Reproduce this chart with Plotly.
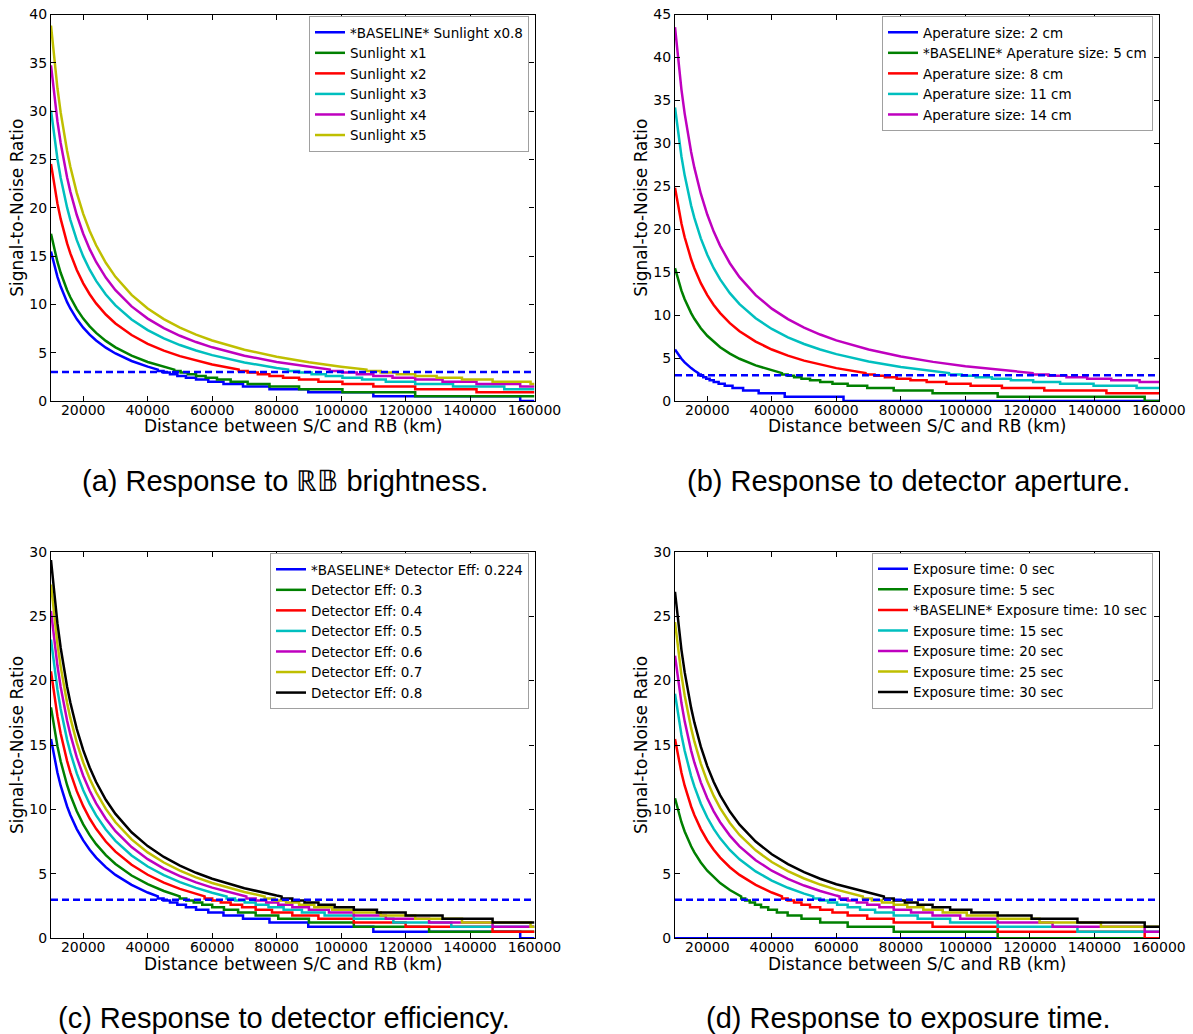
import plotly.graph_objects as go

W, H = 1193, 1034
X_MIN, X_MAX = 10000, 160000
THRESHOLD = 3

# distances (km) at which the smooth part of each curve was read
GRID = [10000, 11000, 12000, 13000, 14000, 15000, 16000, 18000, 20000, 22000,
        24000, 27000, 30000, 35000, 40000, 45000, 50000, 55000, 60000, 70000,
        80000, 90000, 100000, 110000, 120000]
# SNR step levels seen in the stair-like tails (index = step number)
LEVELS = [0.0, 0.5, 0.894, 1.225, 1.512, 1.768, 2.0, 2.214, 2.412, 2.598,
          2.774, 2.94, 3.098, 3.25]
XTICKS = [20000, 40000, 60000, 80000, 100000, 120000, 140000, 160000]

# ---- baseline curve (shared by all four panels) ----
BASE_HEAD = [15.461, 14.037, 12.850, 11.843, 10.979, 10.229, 9.572, 8.474, 7.592,
             6.868, 6.262, 5.518, 4.918, 4.142, 3.553]
BASE_STEPS = [43146, 44907, 46904, 49193, 51854, 55000, 58797, 63509, 69570,
              77782, 89815, 110000, 155563]

# ---- (a) sunlight ----
A2_HEAD = [17.307, 15.717, 14.391, 13.268, 12.304, 11.468, 10.735, 9.511, 8.529,
           7.723, 7.048, 6.221, 5.555, 4.692, 4.040, 3.527]
A2_STEPS = [48238, 50208, 52440, 55000, 57975, 61492, 65737, 71005, 77782, 86963,
            100416, 122984]
A3_HEAD = [24.536, 22.294, 20.425, 18.842, 17.484, 16.307, 15.276, 13.556, 12.178,
           11.049, 10.105, 8.950, 8.022, 6.824, 5.919, 5.211, 4.640, 4.170, 3.777]
A3_STEPS = [68219, 71005, 74162, 77782, 81989, 86963, 92967, 100416, 110000,
            122984, 142009]
A4_HEAD = [30.075, 27.332, 25.045, 23.108, 21.448, 20.009, 18.749, 16.647, 14.964,
           13.585, 12.434, 11.025, 9.895, 8.438, 7.340, 6.481, 5.790, 5.222, 4.746,
           3.992, 3.421]
A4_STEPS = [83551, 86963, 90829, 95263, 100416, 106508, 113860, 122984, 134722,
            150624]
A5_HEAD = [34.742, 31.575, 28.936, 26.702, 24.786, 23.126, 21.672, 19.248, 17.307,
           15.717, 14.391, 12.769, 11.468, 9.791, 8.529, 7.543, 6.751, 6.100, 5.555,
           4.692, 4.040, 3.527]
A5_STEPS = [96476, 100416, 104881, 110000, 115950, 122984, 131475, 142009, 155563]
A6_HEAD = [38.852, 35.313, 32.363, 29.866, 27.725, 25.870, 24.245, 21.537, 19.369,
           17.593, 16.113, 14.301, 12.850, 10.979, 9.572, 8.474, 7.592, 6.868, 6.262,
           5.304, 4.579, 4.011, 3.553]
A6_STEPS = [107864, 112268, 117260, 122984, 129636, 137500, 146994, 158771]

# ---- (b) aperture ----
B1_HEAD = [5.995, 5.409, 4.918, 4.501, 4.142, 3.828, 3.553]
B1_STEPS = [17258, 17963, 18762, 19677, 20742, 22000, 23519, 25403, 27828, 31113,
            35926, 44000, 62225]
B3_HEAD = [24.830, 22.561, 20.670, 19.068, 17.695, 16.504, 15.460, 13.720, 12.326,
           11.183, 10.229, 9.060, 8.121, 6.909, 5.995, 5.278, 4.701, 4.226, 3.828]
B3_STEPS = [69032, 71851, 75046, 78709, 82966, 88000, 94074, 101612, 111311,
            124449, 143701]
B4_HEAD = [34.181, 31.065, 28.468, 26.269, 24.385, 22.751, 21.320, 18.935, 17.025,
           15.461, 14.156, 12.559, 11.279, 9.629, 8.386, 7.415, 6.636, 5.995, 5.458,
           4.608, 3.965, 3.461]
B4_STEPS = [94921, 98797, 103190, 108227, 114081, 121002, 129356, 139720, 153056]
B5_HEAD = [43.524, 39.561, 36.257, 33.461, 31.065, 28.987, 27.169, 24.137, 21.710,
           19.724, 18.067, 16.041, 14.417, 12.326, 10.754, 9.528, 8.544, 7.737, 7.061,
           5.995, 5.189, 4.556, 4.047, 3.628, 3.276]
B5_STEPS = [120808, 125741, 131332, 137743, 145193, 154002]

# ---- (c) detector efficiency ----
C2_HEAD = [17.920, 16.275, 14.903, 13.741, 12.744, 11.879, 11.121, 9.855, 8.839,
           8.006, 7.309, 6.454, 5.765, 4.875, 4.201, 3.671]
C2_STEPS = [49931, 51970, 54280, 56930, 60009, 63650, 68044, 73496, 80511, 90014,
            103939, 127299]
C3_HEAD = [20.715, 18.818, 17.237, 15.897, 14.748, 13.751, 12.878, 11.420, 10.252,
           9.294, 8.493, 7.511, 6.722, 5.701, 4.930, 4.325, 3.837, 3.435]
C3_STEPS = [57653, 60007, 62675, 65734, 69290, 73493, 78567, 84863, 92962, 103935,
            120014, 146986]
C4_HEAD = [23.178, 21.059, 19.292, 17.795, 16.512, 15.399, 14.424, 12.798, 11.494,
           10.425, 9.533, 8.439, 7.561, 6.426, 5.568, 4.897, 4.356, 3.910, 3.537]
C4_STEPS = [64462, 67094, 70078, 73498, 77474, 82174, 87847, 94886, 103942, 116211,
            134189]
C5_HEAD = [25.401, 23.081, 21.146, 19.508, 18.104, 16.885, 15.819, 14.039, 12.614,
           11.445, 10.469, 9.275, 8.315, 7.076, 6.141, 5.410, 4.821, 4.336, 3.929,
           3.284]
C5_STEPS = [70613, 73496, 76764, 80511, 84866, 90014, 96229, 103939, 113860,
            127299, 146992]
C6_HEAD = [27.447, 24.941, 22.852, 21.084, 19.568, 18.253, 17.102, 15.181, 13.643,
           12.382, 11.330, 10.042, 9.007, 7.673, 6.667, 5.880, 5.246, 4.725, 4.288,
           3.594]
C6_STEPS = [76274, 79388, 82918, 86966, 91670, 97231, 103944, 112272, 122988,
            137505, 158776]
C7_HEAD = [29.348, 26.670, 24.438, 22.549, 20.928, 19.523, 18.293, 16.242, 14.599,
           13.252, 12.129, 10.753, 9.650, 8.227, 7.154, 6.315, 5.640, 5.085, 4.620,
           3.883, 3.324]
C7_STEPS = [81538, 84868, 88641, 92968, 97997, 103941, 111118, 120021, 131476,
            146995]

# ---- (d) exposure time ----
D0_X = [10000, 160000]
D0_Y = [0.0, 0.0]
D1_HEAD = [10.866, 9.853, 9.007, 8.290, 7.673, 7.137, 6.667, 5.880, 5.246, 4.725,
           4.288, 3.750, 3.315]
D1_STEPS = [30509, 31754, 33166, 34785, 36667, 38891, 41576, 44907, 49193, 55000,
            63509, 77782, 110000]
D3_HEAD = [18.974, 17.235, 15.783, 14.554, 13.500, 12.585, 11.784, 10.446, 9.373,
           8.492, 7.756, 6.853, 6.127, 5.187, 4.477, 3.919, 3.469]
D3_STEPS = [52842, 55000, 57446, 60250, 63509, 67361, 72012, 77782, 85206, 95263,
            110000, 134722]
D4_HEAD = [21.932, 19.925, 18.252, 16.835, 15.620, 14.565, 13.642, 12.101, 10.866,
           9.853, 9.007, 7.970, 7.137, 6.060, 5.246, 4.608, 4.094, 3.671, 3.315]
D4_STEPS = [61017, 63509, 66332, 69570, 73333, 77782, 83152, 89815, 98387, 110000,
            127017, 155563]
D6_HEAD = [26.889, 24.434, 22.387, 20.654, 19.169, 17.880, 16.752, 14.870, 13.362,
           12.127, 11.096, 9.832, 8.819, 7.511, 6.524, 5.752, 5.130, 4.619, 4.190,
           3.511]
D6_STEPS = [74730, 77782, 81240, 85206, 89815, 95263, 101840, 110000, 120499,
            134722, 155564]

A_LABELS = ["*BASELINE* Sunlight x0.8", "Sunlight x1", "Sunlight x2", "Sunlight x3",
            "Sunlight x4", "Sunlight x5"]
B_LABELS = ["Aperature size: 2 cm", "*BASELINE* Aperature size: 5 cm",
            "Aperature size: 8 cm", "Aperature size: 11 cm", "Aperature size: 14 cm"]
C_LABELS = ["*BASELINE* Detector Eff: 0.224", "Detector Eff: 0.3", "Detector Eff: 0.4",
            "Detector Eff: 0.5", "Detector Eff: 0.6", "Detector Eff: 0.7",
            "Detector Eff: 0.8"]
D_LABELS = ["Exposure time: 0 sec", "Exposure time: 5 sec",
            "*BASELINE* Exposure time: 10 sec", "Exposure time: 15 sec",
            "Exposure time: 20 sec", "Exposure time: 25 sec", "Exposure time: 30 sec"]

COLORS = ["#0000ff", "#008000", "#ff0000", "#00bfbf", "#bf00bf", "#bfbf00", "#000000"]
TICK_FONT = dict(family="DejaVu Sans", size=14, color="black")
TITLE_FONT = dict(family="DejaVu Sans", size=17, color="black")
CAPTION_FONT = dict(family="Liberation Sans", size=29, color="black")
LINE_W = 2.5


def build(head, steps):
    xs = list(GRID[:len(head)])
    ys = list(head)
    k = 13
    for b in steps:
        xs += [b, b]
        ys += [LEVELS[k], LEVELS[k - 1]]
        k -= 1
    xs.append(X_MAX)
    ys.append(LEVELS[k])
    return xs, ys


PANELS = [
    dict(ax="", legend="legend", ymax=40, labels=A_LABELS,
         curves=[build(BASE_HEAD, BASE_STEPS), build(A2_HEAD, A2_STEPS),
                 build(A3_HEAD, A3_STEPS), build(A4_HEAD, A4_STEPS),
                 build(A5_HEAD, A5_STEPS), build(A6_HEAD, A6_STEPS)],
         caption="(a) Response to \u211d\U0001d539 brightness.", capx=284.5 / W,
         xd=[51 / W, 534.5 / W], yd=[1 - 401 / H, 1 - 14.5 / H]),
    dict(ax="2", legend="legend2", ymax=45, labels=B_LABELS,
         curves=[build(B1_HEAD, B1_STEPS), build(BASE_HEAD, BASE_STEPS),
                 build(B3_HEAD, B3_STEPS), build(B4_HEAD, B4_STEPS),
                 build(B5_HEAD, B5_STEPS)],
         caption="(b) Response to detector aperture.", capx=908 / W,
         xd=[675 / W, 1159 / W], yd=[1 - 401 / H, 1 - 14.5 / H]),
    dict(ax="3", legend="legend3", ymax=30, labels=C_LABELS,
         curves=[build(BASE_HEAD, BASE_STEPS), build(C2_HEAD, C2_STEPS),
                 build(C3_HEAD, C3_STEPS), build(C4_HEAD, C4_STEPS),
                 build(C5_HEAD, C5_STEPS), build(C6_HEAD, C6_STEPS),
                 build(C7_HEAD, C7_STEPS)],
         caption="(c) Response to detector efficiency.", capx=284 / W,
         xd=[51 / W, 534.5 / W], yd=[1 - 938.3 / H, 1 - 551.7 / H]),
    dict(ax="4", legend="legend4", ymax=30, labels=D_LABELS,
         curves=[(D0_X, D0_Y), build(D1_HEAD, D1_STEPS), build(BASE_HEAD, BASE_STEPS),
                 build(D3_HEAD, D3_STEPS), build(D4_HEAD, D4_STEPS),
                 build(A3_HEAD, A3_STEPS), build(D6_HEAD, D6_STEPS)],
         caption="(d) Response to exposure time.", capx=908 / W,
         xd=[675 / W, 1159 / W], yd=[1 - 938.3 / H, 1 - 551.7 / H]),
]

fig = go.Figure()
layout = dict(width=W, height=H, margin=dict(l=0, r=0, t=0, b=0, autoexpand=False),
              paper_bgcolor="white", plot_bgcolor="white", showlegend=True,
              annotations=[])

LEGEND_POS = {"legend": (529 / W, 1 - 16 / H), "legend2": (1153 / W, 1 - 16 / H),
              "legend3": (529 / W, 1 - 553 / H), "legend4": (1153 / W, 1 - 552.5 / H)}

for p in PANELS:
    xa, ya = "x" + p["ax"], "y" + p["ax"]
    for i, ((xs, ys), lab) in enumerate(zip(p["curves"], p["labels"])):
        fig.add_trace(go.Scatter(x=xs, y=ys, mode="lines", name=lab,
                                 line=dict(color=COLORS[i], width=LINE_W),
                                 xaxis=xa, yaxis=ya, legend=p["legend"],
                                 hoverinfo="skip"))
    fig.add_trace(go.Scatter(x=[X_MIN, X_MAX], y=[THRESHOLD, THRESHOLD], mode="lines",
                             line=dict(color="#0000ff", width=LINE_W, dash="7px,4px"),
                             xaxis=xa, yaxis=ya, showlegend=False, hoverinfo="skip"))
    axis_common = dict(showline=True, linecolor="black", linewidth=1.3, mirror="ticks",
                       ticks="inside", ticklen=5, tickwidth=1, tickcolor="black",
                       showgrid=False, zeroline=False, tickfont=TICK_FONT,
                       automargin=False)
    layout["xaxis" + p["ax"]] = dict(domain=p["xd"], anchor=ya, range=[X_MIN, X_MAX],
                                     tickvals=XTICKS, ticktext=[str(t) for t in XTICKS],
                                     ticklabelstandoff=-4, **axis_common)
    layout["yaxis" + p["ax"]] = dict(domain=p["yd"], anchor=xa, range=[0, p["ymax"]],
                                     dtick=5, tick0=0, **axis_common)
    lx, ly = LEGEND_POS[p["legend"]]
    layout[p["legend"]] = dict(x=lx, y=ly, xanchor="right", yanchor="top",
                               xref="paper", yref="paper",
                               bgcolor="white", bordercolor="#a0a0a0", borderwidth=1,
                               font=dict(family="DejaVu Sans", size=13.5, color="black"),
                               itemwidth=30, tracegroupgap=0)
    # axis titles and caption
    cx = (p["xd"][0] + p["xd"][1]) / 2
    layout["annotations"].append(dict(
        text="Distance between S/C and RB (km)", x=cx, y=p["yd"][0] - 25.5 / H,
        xref="paper", yref="paper", showarrow=False, xanchor="center",
        yanchor="middle", font=TITLE_FONT))
    layout["annotations"].append(dict(
        text="Signal-to-Noise Ratio", x=p["xd"][0] - 34 / W,
        y=(p["yd"][0] + p["yd"][1]) / 2, xref="paper", yref="paper",
        showarrow=False, textangle=-90, xanchor="center", yanchor="middle",
        font=TITLE_FONT))
    layout["annotations"].append(dict(
        text=p["caption"], x=p["capx"], y=p["yd"][0] - 80 / H, xref="paper",
        yref="paper", showarrow=False, xanchor="center", yanchor="middle",
        font=CAPTION_FONT))

fig.update_layout(**layout)
fig.write_html("out.html")
